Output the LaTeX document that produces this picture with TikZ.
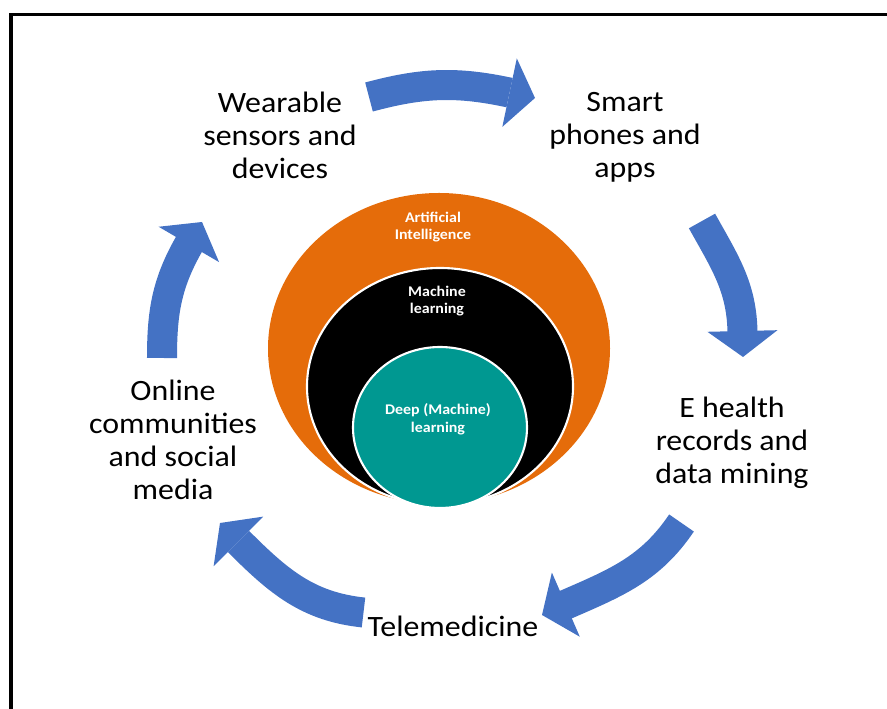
\documentclass[tikz,border=0pt]{standalone}
\usepackage{fontspec}
\setmainfont{Carlito}[FakeStretch=1.08]
\usetikzlibrary{arrows.meta}
\definecolor{arrowBlue}{RGB}{68,114,196}
\definecolor{aiOrange}{RGB}{229,108,10}
\definecolor{dlTeal}{RGB}{0,152,145}
\tikzstyle{pixels} = [x = .025cm, y = .025cm]
\tikzstyle{frameLine} = [color=black, line width=.075cm]
\tikzstyle{cycleText} = [align=center, font=\fontsize{21}{23.4}\selectfont, text=black, inner sep=0pt]
\tikzstyle{coreText} = [align=center, font=\fontsize{10.5}{12.5}\selectfont\bfseries, text=white, inner sep=0pt]
\tikzstyle{ringStyle} = [draw=white, line width=1.5pt]
\tikzstyle{arrowStyle} = [arrowBlue, line width=.75cm, -{Triangle[length=.65cm, width=1.75cm, line width=0pt]}]
% shaft bends from #1 to the head base #4, the head then points at #5
\newcommand{\cycleArrow}[5]{\draw [arrowStyle] (#1) to [out = #2, in = #3] (#4) -- (#5);}

\begin{document}
\begin{tikzpicture}[pixels]
  \useasboundingbox (0,0) rectangle (887,709);
  \draw [frameLine] (887,694) -- (11,694) -- (11,0);

  % nested circles
  \fill [aiOrange] (439,360.5) ellipse [x radius=171, y radius=155.5];
  \filldraw [ringStyle, fill=black] (440,322.5) ellipse [x radius=133, y radius=118.5];
  \filldraw [ringStyle, fill=dlTeal] (440,281.5) ellipse [x radius=87, y radius=80.5];
  \node [coreText] (ai) at (433,482) {Artificial\\Intelligence};
  \node [coreText] (ml) at (437,408) {Machine\\learning};
  \node [coreText] (dl) at (438,290) {Deep (Machine)\\learning};

  % labels round the cycle
  \node [cycleText] (wearable) at (280,574) {Wearable\\sensors and\\devices};
  \node [cycleText] (phones) at (625,572) {Smart\\phones and\\apps};
  \node [cycleText] (records) at (732,266) {E health\\records and\\data mining};
  \node [cycleText, anchor=base] (tele) at (453,72) {Telemedicine};
  \node [cycleText] (online) at (173,269) {Online\\communities\\and social\\media};

  % arrow ends: tail, head base, tip
  \coordinate (wearableOut) at (369,612);
  \coordinate (phonesBase) at (509,616.5);
  \coordinate (phonesIn) at (535,611);
  \coordinate (phonesOut) at (702,488);
  \coordinate (recordsBase) at (742.5,374);
  \coordinate (recordsIn) at (743,352);
  \coordinate (recordsOut) at (681.5,186);
  \coordinate (teleBase) at (565,104);
  \coordinate (teleIn) at (542,94);
  \coordinate (teleOut) at (363.5,96.5);
  \coordinate (onlineBase) at (239,167);
  \coordinate (onlineIn) at (220,186);
  \coordinate (onlineOut) at (162,351);
  \coordinate (wearableBase) at (190,466.5);
  \coordinate (wearableIn) at (202,487);

  \cycleArrow{wearableOut}{15}{168}{phonesBase}{phonesIn}
  \cycleArrow{phonesOut}{-61}{90}{recordsBase}{recordsIn}
  \cycleArrow{recordsOut}{-124}{23.5}{teleBase}{teleIn}
  \cycleArrow{teleOut}{174}{-45}{onlineBase}{onlineIn}
  \cycleArrow{onlineOut}{90}{-120}{wearableBase}{wearableIn}
\end{tikzpicture}
\end{document}
